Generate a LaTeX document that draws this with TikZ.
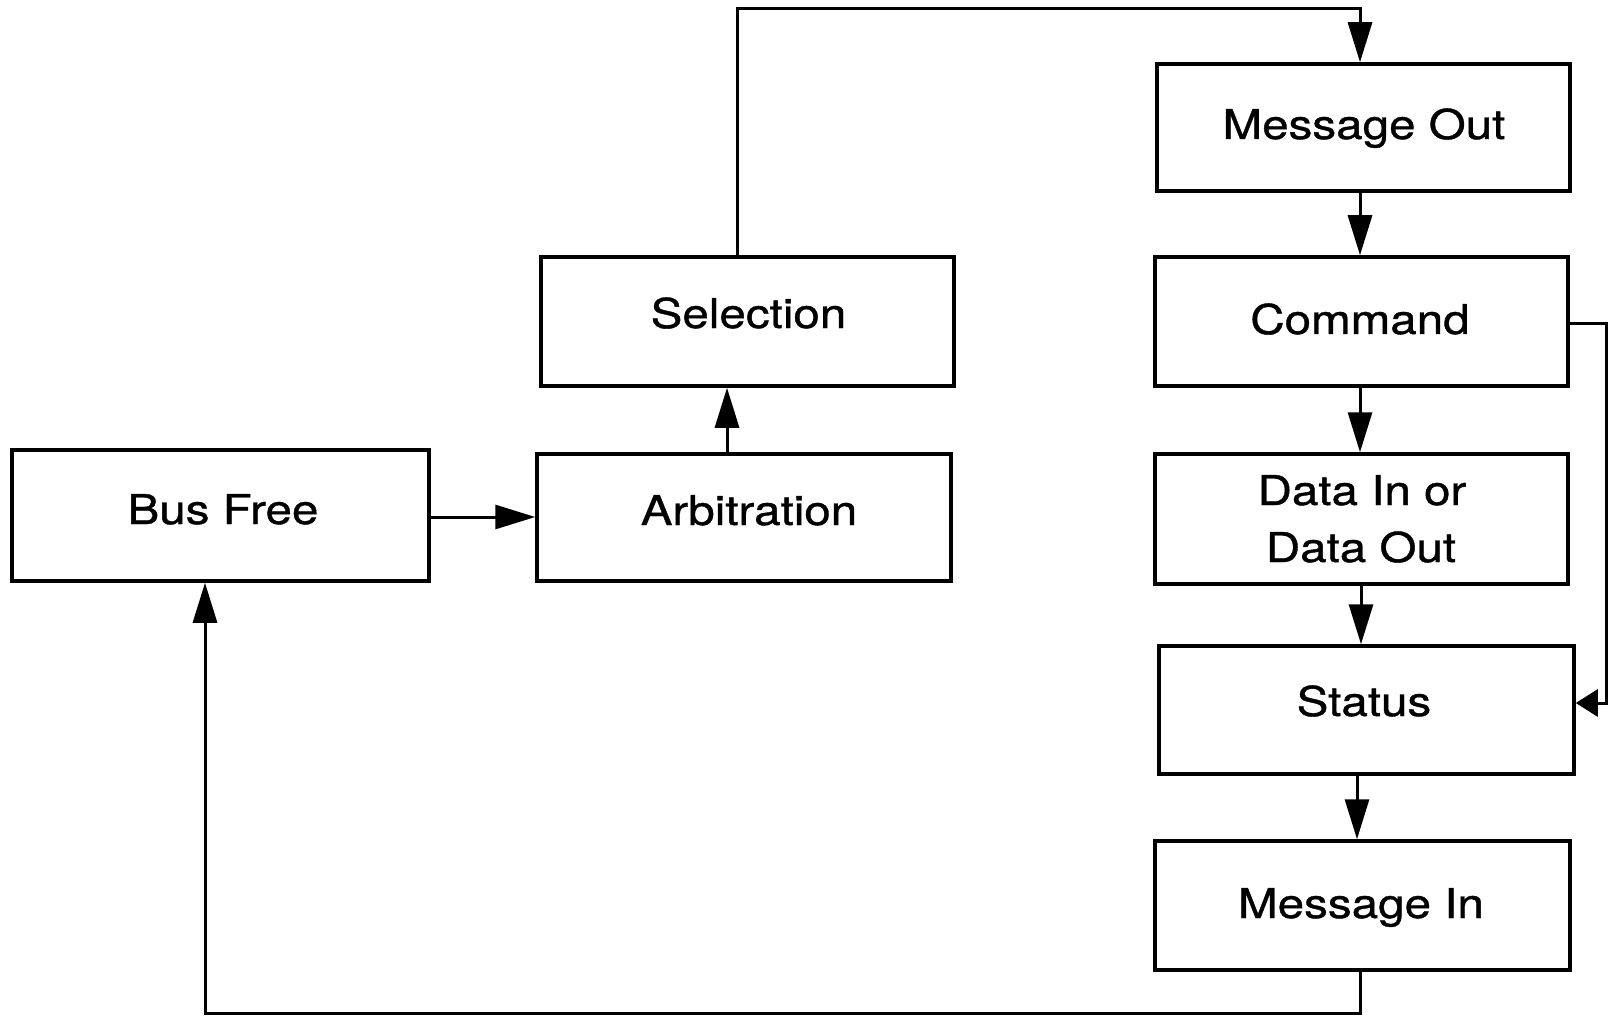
\documentclass[tikz,border=0pt]{standalone}
\usepackage{fontspec}
\setmainfont[FakeStretch=1.16,FakeBold=0.9]{TeX Gyre Heros}
\usetikzlibrary{arrows.meta}
\begin{document}
\begin{tikzpicture}[x=1pt,y=-1pt,
  phase/.style={draw=black, line width=3.5pt, rectangle, inner sep=0pt},
  lbl/.style={anchor=base, inner sep=0pt, font=\fontsize{41}{57}\selectfont},
  conn/.style={draw=black, line width=3pt, -{Triangle[length=40pt,width=24pt]}},
  shortconn/.style={draw=black, line width=3pt, -{Triangle[length=22pt,width=27pt]}}]
\useasboundingbox (0,0) rectangle (1609,1016);

% phase boxes
\node[phase, minimum width=417pt, minimum height=131pt] (busfree) at (220.5,515.5) {};
\node[phase, minimum width=414pt, minimum height=127pt] (arb) at (744,517.5) {};
\node[phase, minimum width=413pt, minimum height=129pt] (sel) at (747.5,321.5) {};
\node[phase, minimum width=413pt, minimum height=127pt] (msgout) at (1363.5,127.5) {};
\node[phase, minimum width=413pt, minimum height=129pt] (cmd) at (1361.5,321.5) {};
\node[phase, minimum width=413pt, minimum height=130pt] (data) at (1361.5,519) {};
\node[phase, minimum width=415pt, minimum height=128pt] (status) at (1366.5,710) {};
\node[phase, minimum width=415pt, minimum height=129pt] (msgin) at (1362.5,905.5) {};

% labels
\node[lbl] (tbus) at (223,524) {Bus Free};
\node[lbl] (tarb) at (749,525) {Arbitration};
\node[lbl] (tsel) at (748.5,328) {Selection};
\node[lbl] (tmo) at (1364,139) {Message Out};
\node[lbl] (tcmd) at (1360,334) {Command};
\node[lbl] (tdata1) at (1362,505) {Data In or};
\node[lbl] (tdata2) at (1361,562) {Data Out};
\node[lbl] (tstat) at (1364,716) {Status};
\node[lbl] (tmi) at (1361,918) {Message In};

% routing helpers
\coordinate (topc) at (737,9);
\coordinate (vx) at (1360,0);
\coordinate (vx2) at (1357,0);
\coordinate (rx) at (1606,0);
\coordinate (ry) at (0,703);
\coordinate (cy) at (0,324);
\coordinate (by) at (0,1013);
\coordinate (bx) at (205,0);
\coordinate (hy) at (0,517);
\coordinate (ax) at (727,0);

% connectors
\draw[conn] (busfree.east |- hy) -- (arb.west |- hy);
\draw[conn] (arb.north -| ax) -- (sel.south -| ax);
\draw[conn] (sel.north -| topc) -- (topc) -| (msgout.north -| vx);
\draw[conn] (msgout.south -| vx) -- (cmd.north -| vx);
\draw[conn] (cmd.south -| vx) -- (data.north -| vx);
\draw[conn] ([xshift=1pt]data.south -| vx) -- ([xshift=1pt]status.north -| vx);
\draw[conn] (status.south -| vx2) -- (msgin.north -| vx2);
\draw[shortconn] (cmd.east |- cy) -- (rx |- cy) |- (status.east |- ry);
\draw[conn] (msgin.south -| vx) -- (vx |- by) -| (busfree.south -| bx);
\end{tikzpicture}
\end{document}
